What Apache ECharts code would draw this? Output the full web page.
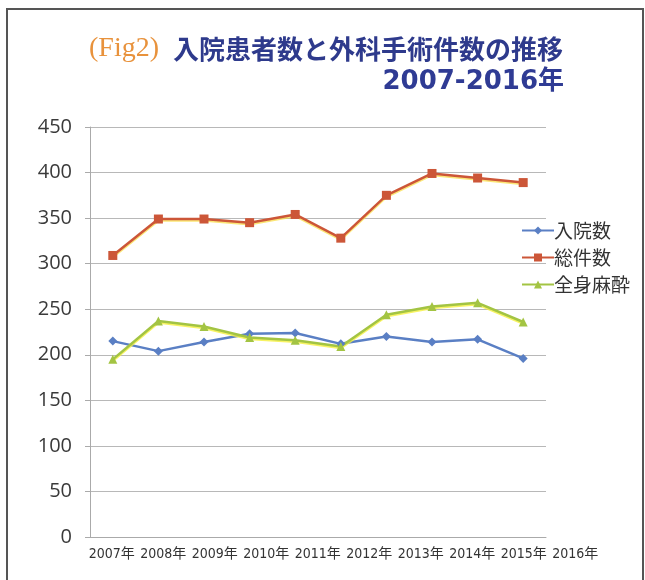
<!DOCTYPE html>
<html>
<head>
<meta charset="utf-8">
<script src="https://cdn.jsdelivr.net/npm/echarts@6/dist/echarts.min.js"></script>
<style>
html,body{margin:0;padding:0;background:#fff;}
#chart{width:645px;height:580px;}
</style>
</head>
<body>
<div id="chart"></div>
<script>
var years = ['2007年','2008年','2009年','2010年','2011年','2012年','2013年','2014年','2015年','2016年'];
var nyuin = [215, 204, 214, 223, 224, 212, 220, 214, 217, 196];
var soken = [309, 349, 349, 345, 354, 328, 375, 399, 394, 389];
var zenshin = [195, 237, 231, 219, 216, 209, 244, 253, 257, 236];

var cjk = '"Noto Sans CJK JP", sans-serif';

var option = {
    animation:false,
    backgroundColor:'#ffffff',
    title:[{
        text:'{a|(Fig2)}{s|}{b|入院患者数と外科手術件数の推移}',
        left:84,
        top:30,
        textStyle:{
            rich:{
                a:{color:'#e8923c',fontSize:28,fontWeight:'normal',fontFamily:'"Liberation Serif", serif'},
                s:{width:14},
                b:{color:'#2e3a8c',fontSize:26,fontWeight:'bold',fontFamily:cjk}
            }
        }
    },{
        text:'2007-2016年',
        right:76,
        top:64,
        textStyle:{color:'#2f3b94',fontSize:26,fontWeight:'bold',fontFamily:'"DejaVu Sans", ' + cjk}
    }],
    legend:{
        orient:'vertical',
        left:516,
        top:216,
        itemWidth:32,
        itemHeight:10,
        itemGap:8,
        textStyle:{color:'#333',fontSize:19,fontFamily:cjk,padding:[0,0,0,-5]},
        data:['入院数','総件数','全身麻酔']
    },
    grid:[
        {left:90,right:99,top:127,bottom:43},
        {left:86,right:44,top:127,bottom:43}
    ],
    xAxis:[{
        type:'category',
        data:years,
        boundaryGap:true,
        axisLine:{lineStyle:{color:'#aaa',width:1}},
        axisTick:{length:5,lineStyle:{color:'#aaa'}},
        axisLabel:{show:false}
    },{
        // labels sit on their own slightly wider band
        type:'category',
        gridIndex:1,
        data:years,
        boundaryGap:true,
        axisLine:{show:false},
        axisTick:{show:false},
        axisLabel:{
            interval:0,
            margin:10,
            color:'#333',
            fontSize:14,
            fontFamily:'"Liberation Sans Narrow", "Arial Narrow", "DejaVu Sans Condensed", ' + cjk
        }
    }],
    yAxis:[{
        type:'value',
        min:0,
        max:450,
        interval:50,
        axisLine:{show:true,lineStyle:{color:'#aaa',width:1}},
        axisTick:{show:true,inside:false,length:5,lineStyle:{color:'#aaa'}},
        axisLabel:{margin:18,color:'#3a3a3a',fontSize:20,fontFamily:'"Open Sans", sans-serif'},
        splitLine:{lineStyle:{color:'#b8b8b8',width:1}}
    },{
        type:'value',
        gridIndex:1,
        min:0,
        max:450,
        show:false
    }],
    series:[{
        name:'入院数',
        type:'line',
        data:nyuin,
        color:'#5a7fc4',
        symbol:'diamond',
        symbolSize:9,
        lineStyle:{width:2.5}
    },{
        name:'総件数',
        type:'line',
        data:soken,
        color:'#cc5638',
        symbol:'rect',
        symbolSize:9,
        lineStyle:{width:2.5,shadowColor:'rgba(250,220,60,0.7)',shadowOffsetY:1.5}
    },{
        name:'全身麻酔',
        type:'line',
        data:zenshin,
        color:'#a3c443',
        symbol:'triangle',
        symbolSize:9,
        lineStyle:{width:2.5,shadowColor:'rgba(245,240,60,0.8)',shadowOffsetY:1.5}
    }],
    graphic:[{
        type:'rect',
        silent:true,
        shape:{x:7,y:9,width:636,height:590},
        style:{fill:'none',stroke:'#555',lineWidth:2}
    }]
};

var myChart = echarts.init(document.getElementById('chart'));
myChart.setOption(option);
</script>
</body>
</html>
